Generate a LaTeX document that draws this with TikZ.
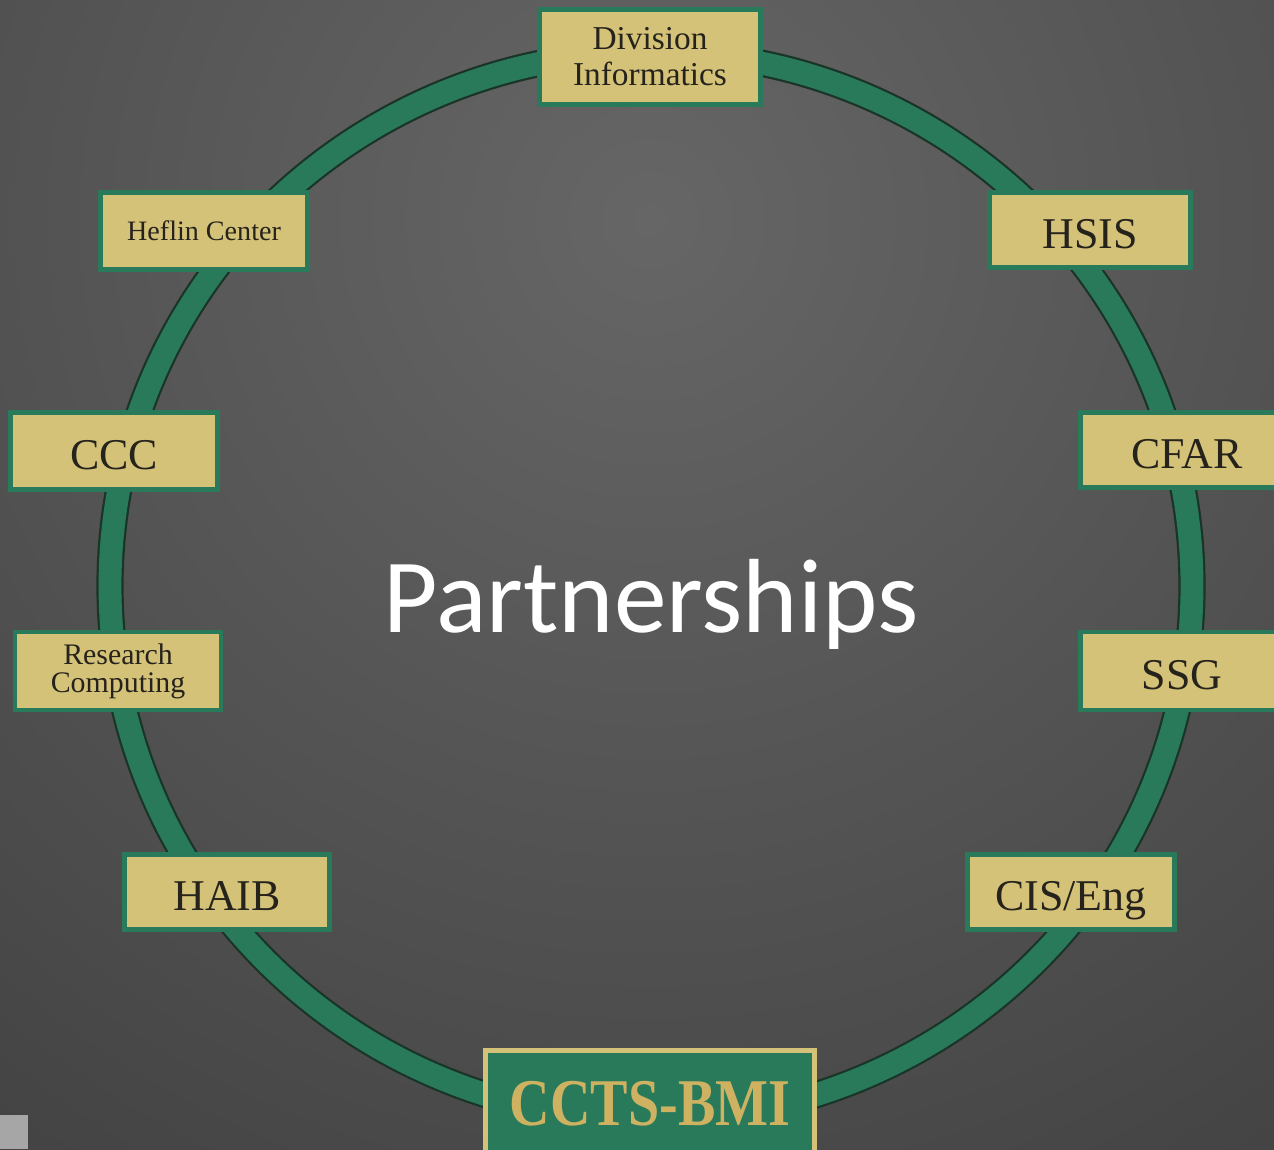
\documentclass[tikz,border=0pt]{standalone}
\usepackage{fontspec}
\setmainfont{Liberation Serif}
\newfontfamily\carlito{Carlito}
\definecolor{bgin}{RGB}{102,102,102}
\definecolor{bgout}{RGB}{56,56,56}
\definecolor{ringgreen}{RGB}{40,122,90}
\definecolor{ringdark}{RGB}{26,52,40}
\definecolor{boxtan}{RGB}{212,194,120}
\definecolor{textdark}{RGB}{38,34,28}
\definecolor{gold}{RGB}{206,178,98}

\tikzset{
  unitbox/.style={draw=ringgreen, line width=2.8pt, fill=boxtan, text=textdark, align=center, inner sep=0pt},
  bigtext/.style={font=\fontsize{25}{27}\selectfont, text height=21pt, text depth=0pt},
}

\begin{document}
\begin{tikzpicture}[x=0.02cm, y=-0.02cm]
    \useasboundingbox (0,0) rectangle (1274,1149); % 画布大小
    \clip (0,0) rectangle (1274,1149);
    \shade[inner color=bgin, outer color=bgout] (650,220) circle [radius=1500]; % 背景
    \fill[gray!70] (0,1115) rectangle (28,1149); % 左下角小方块
    \draw[ringdark, line width=15.5pt] (651,586) ellipse [x radius=541, y radius=534]; % 圆环外缘
    \draw[ringgreen, line width=13pt] (651,586) ellipse [x radius=541, y radius=534]; % 圆环
    \node (div) at (650,57) [unitbox, minimum width=4.42cm, minimum height=1.9cm, font=\fontsize{19}{20.5}\selectfont] {Division\\Informatics}; % 顶部
    \node (heflin) at (204,231) [unitbox, minimum width=4.14cm, minimum height=1.54cm, font=\fontsize{16}{18}\selectfont] {Heflin Center};
    \node (hsis) at (1090,230) [unitbox, bigtext, minimum width=4.02cm, minimum height=1.5cm] {HSIS};
    \node (ccc) at (114,451) [unitbox, bigtext, minimum width=4.14cm, minimum height=1.54cm] {CCC};
    \node (cfar) at (1187,450) [unitbox, bigtext, minimum width=4.26cm, minimum height=1.5cm] {CFAR};
    \node (rc) at (118,671) [unitbox, minimum width=4.12cm, minimum height=1.56cm, font=\fontsize{17}{16}\selectfont] {Research\\Computing};
    \node (ssg) at (1182,671) [unitbox, bigtext, minimum width=4.06cm, minimum height=1.56cm] {SSG};
    \node (haib) at (227,892) [unitbox, bigtext, minimum width=4.1cm, minimum height=1.5cm] {HAIB};
    \node (cis) at (1071,892) [unitbox, bigtext, minimum width=4.14cm, minimum height=1.5cm] {CIS/Eng};
    \node (ccts) at (650,1104) [draw=boxtan, line width=2.8pt, fill=ringgreen, text=gold, minimum width=6.58cm, minimum height=2.14cm, font=\fontsize{38}{40}\bfseries] {\scalebox{0.84}[1]{CCTS-BMI}}; % 底部
    \node (partner) at (651,632) [anchor=base, text=white, font=\carlito\fontsize{60}{64}\selectfont] {Partnerships}; % 中心标题
\end{tikzpicture}
\end{document}
